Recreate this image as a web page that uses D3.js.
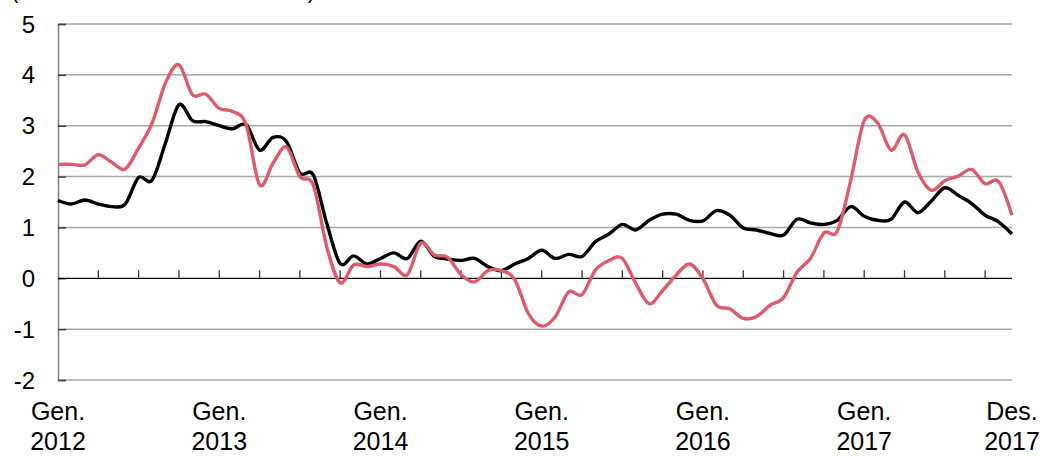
<!DOCTYPE html>
<html>
<head>
<meta charset="utf-8">
<script src="https://cdn.jsdelivr.net/npm/d3@7"></script>
<style>
  body { margin: 0; background: #fff; }
  svg text { font-family: "Liberation Sans", Arial, sans-serif; fill: #000; }
</style>
</head>
<body>
<svg id="chart" width="1044" height="456"></svg>
<script>
// mesos: gener 2012 (0) ... desembre 2017 (71)
const months = d3.range(72)
const xLabels = [
  { m: 0, top: "Gen.", bottom: "2012" },
  { m: 12, top: "Gen.", bottom: "2013" },
  { m: 24, top: "Gen.", bottom: "2014" },
  { m: 36, top: "Gen.", bottom: "2015" },
  { m: 48, top: "Gen.", bottom: "2016" },
  { m: 60, top: "Gen.", bottom: "2017" },
  { m: 71, top: "Des.", bottom: "2017" }
]
const yTicks = [-2, -1, 0, 1, 2, 3, 4, 5]
const quarterTicks = d3.range(3, 72, 3)

const serieVermella = [
  2.24, 2.24, 2.23, 2.43, 2.28, 2.15, 2.56, 3.05, 3.84, 4.2,
  3.61, 3.62, 3.34, 3.28, 3.02, 1.84, 2.26, 2.58, 2.0, 1.83,
  0.62, -0.09, 0.26, 0.23, 0.28, 0.23, 0.07, 0.69, 0.46, 0.41,
  0.07, -0.07, 0.15, 0.15, -0.03, -0.69, -0.94, -0.76, -0.27, -0.32,
  0.16, 0.35, 0.39, -0.1, -0.5, -0.24, 0.06, 0.28, -0.01, -0.53,
  -0.6, -0.79, -0.75, -0.53, -0.38, 0.12, 0.39, 0.89, 0.93, 1.93,
  3.1, 3.05, 2.52, 2.82, 2.09, 1.73, 1.92, 2.01, 2.14, 1.86, 1.9, 1.24
]
const serieNegra = [
  1.53, 1.46, 1.54, 1.46, 1.41, 1.46, 1.98, 1.93, 2.66, 3.41,
  3.1, 3.08, 3.0, 2.94, 3.02, 2.52, 2.77, 2.69, 2.07, 2.03,
  1.08, 0.29, 0.44, 0.28, 0.39, 0.5, 0.39, 0.73, 0.43, 0.38,
  0.35, 0.39, 0.23, 0.15, 0.28, 0.39, 0.55, 0.39, 0.47, 0.43,
  0.72, 0.87, 1.06, 0.95, 1.14, 1.26, 1.26, 1.14, 1.13, 1.33,
  1.24, 0.99, 0.95, 0.88, 0.85, 1.16, 1.09, 1.06, 1.14, 1.41,
  1.22, 1.14, 1.16, 1.5, 1.29, 1.52, 1.78, 1.63, 1.47, 1.24, 1.11, 0.87
]

const svg = d3.select("#chart")

const x = d3.scaleLinear().domain([0, 71]).range([58, 1012])
const y = d3.scaleLinear().domain([-2, 5]).range([380, 24])

// títol (tallat a dalt, com a l'original)
svg.append("text")
  .attr("x", 11)
  .attr("y", -2)
  .attr("font-size", 22)
  .attr("textLength", 304)
  .attr("lengthAdjust", "spacing")
  .text("(taxa de variació interanual)")

// línies de la graella
svg.append("g")
  .selectAll("line")
  .data(yTicks.filter(d => d !== 0))
  .enter()
  .append("line")
  .attr("x1", x(0))
  .attr("x2", x(71))
  .attr("y1", d => y(d))
  .attr("y2", d => y(d))
  .attr("stroke", "#a9a9a9")
  .attr("stroke-width", 1.5)

// eix Y
const yAxis = d3.axisRight(y).tickValues(yTicks).tickSize(8).tickFormat("")
svg.append("g")
  .attr("transform", `translate(${x(0)},0)`)
  .call(yAxis)
  .call(g => g.select(".domain").attr("stroke", "#7f7f7f").attr("stroke-width", 1.5))
  .call(g => g.selectAll(".tick line").attr("stroke", "#404040").attr("stroke-width", 1.5))

svg.append("g")
  .selectAll("text")
  .data(yTicks)
  .enter()
  .append("text")
  .attr("x", 35)
  .attr("y", d => y(d) + 8.5)
  .attr("text-anchor", "end")
  .attr("font-size", 24)
  .text(d => d)

// eix zero amb marques trimestrals
svg.append("line")
  .attr("x1", x(0))
  .attr("x2", x(71))
  .attr("y1", y(0))
  .attr("y2", y(0))
  .attr("stroke", "#000")
  .attr("stroke-width", 1.3)

svg.append("g")
  .selectAll("line")
  .data(quarterTicks)
  .enter()
  .append("line")
  .attr("x1", d => x(d))
  .attr("x2", d => x(d))
  .attr("y1", y(0) - 8)
  .attr("y2", y(0))
  .attr("stroke", "#333")
  .attr("stroke-width", 1.3)

// etiquetes de l'eix X
const xl = svg.append("g")
  .selectAll("g")
  .data(xLabels)
  .enter()
  .append("g")
  .attr("transform", d => `translate(${x(d.m)},0)`)

xl.append("text")
  .attr("y", 420)
  .attr("text-anchor", "middle")
  .attr("font-size", 25)
  .text(d => d.top)

xl.append("text")
  .attr("y", 450)
  .attr("text-anchor", "middle")
  .attr("font-size", 25)
  .text(d => d.bottom)

// sèries
const line = d3.line()
  .x((d, i) => x(months[i]))
  .y(d => y(d))
  .curve(d3.curveCardinal.tension(0))

svg.append("path")
  .datum(serieNegra)
  .attr("d", line)
  .attr("fill", "none")
  .attr("stroke", "#000")
  .attr("stroke-width", 3.4)
  .attr("stroke-linejoin", "round")

svg.append("path")
  .datum(serieVermella)
  .attr("d", line)
  .attr("fill", "none")
  .attr("stroke", "#dd5c6b")
  .attr("stroke-width", 3.4)
  .attr("stroke-linejoin", "round")
</script>
</body>
</html>
